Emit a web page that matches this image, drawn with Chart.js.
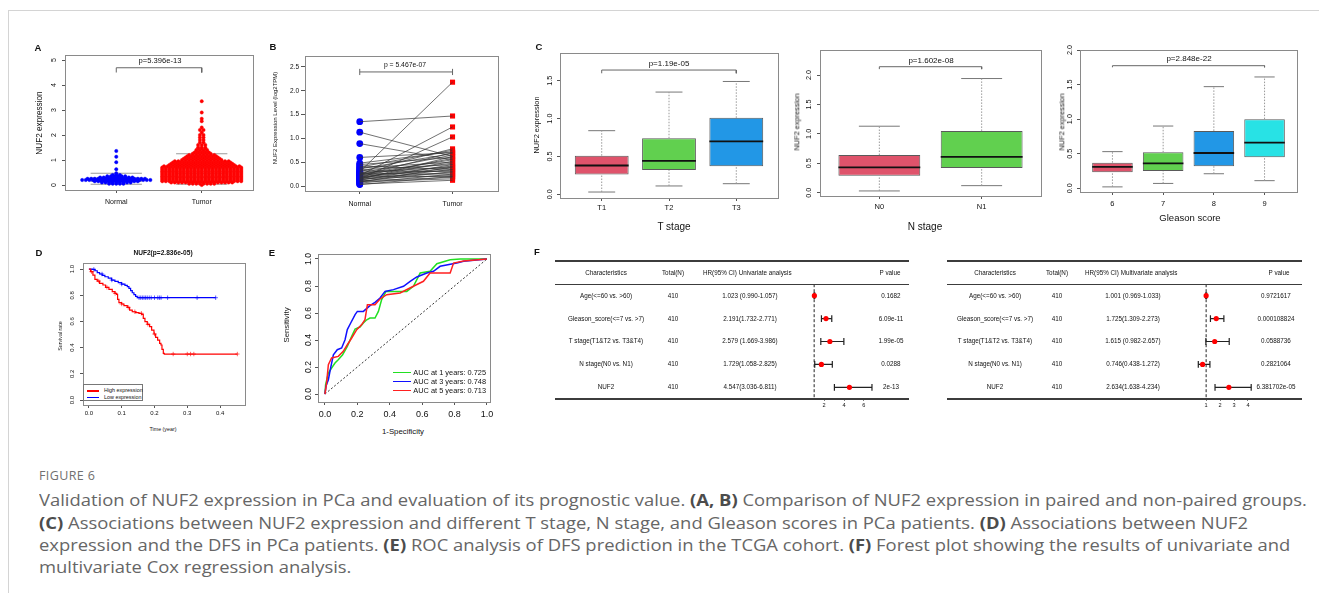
<!DOCTYPE html>
<html>
<head>
<meta charset="utf-8">
<title>Figure 6</title>
<script src="https://cdn.jsdelivr.net/npm/chart.js@4.4.1/dist/chart.umd.min.js"></script>
<style>
  html, body { margin: 0; padding: 0; background: #fff; }
  body { position: relative; width: 1319px; height: 599px; overflow: hidden; font-family: "Liberation Sans", Arial, sans-serif; color: #111; }
  canvas { position: absolute; }
  .tx { position: absolute; white-space: nowrap; line-height: 1; }
  .rule { position: absolute; background: #3c3c3c; }
  #frame { position: absolute; left: 8px; top: 10px; width: 1311px; height: 582px; border-top: 1px solid #d4d4d4; border-left: 1px solid #d4d4d4; }
  .cap { position: absolute; left: 39px; white-space: nowrap; font-family: "Open Sans", sans-serif; font-size: 16.5px; color: #666; transform-origin: 0 50%; line-height: 1; }
  .cap b { color: #4c4c4c; font-weight: 700; }
  .lg { position: absolute; }
</style>
</head>
<body>
<div id="frame"></div>
<script>
// ---------------- data ----------------
// A: unpaired samples, number of samples at each expression level
const normalLevels = [0.05, 0.10, 0.15, 0.20, 0.25, 0.30, 0.35, 0.40, 0.47, 0.63, 0.91, 1.13, 1.36];
const normalCounts = [5, 9, 13, 20, 17, 10, 6, 3, 1, 1, 1, 1, 1];
const tumorLevels = [0.00, 0.05, 0.10, 0.15, 0.20, 0.25, 0.30, 0.35, 0.40, 0.45, 0.50, 0.55, 0.60, 0.65, 0.70, 0.75,
  0.80, 0.85, 0.90, 0.95, 1.00, 1.05, 1.10, 1.15, 1.20, 1.25, 1.30, 1.35, 1.40, 1.45, 1.50,
  1.60, 1.70, 1.80, 1.90, 2.00, 2.10, 2.20, 2.30, 2.55, 2.65, 2.90, 3.35];
const tumorCounts = [1, 8, 18, 23, 23, 23, 23, 23, 23, 23, 23, 23, 23, 23, 23, 22,
  19, 18, 17, 16, 12, 11, 10, 9, 8, 6, 5, 4, 4, 3, 3,
  3, 2, 2, 2, 2, 1, 2, 1, 1, 1, 1, 1];
const groupsA = ['Normal', 'Tumor'];
const boxStatsA = [[0.03, 0.15, 0.21, 0.28, 0.47], [0.03, 0.30, 0.46, 0.66, 1.25]];

// B: paired samples
const pairedNormal = [1.35, 1.13, 0.89, 0.60, 0.30, 0.22, 0.15, 0.48, 0.45, 0.42, 0.40, 0.38, 0.36, 0.34, 0.32, 0.30, 0.28, 0.27, 0.26, 0.25,
  0.24, 0.23, 0.22, 0.21, 0.20, 0.19, 0.18, 0.17, 0.16, 0.15, 0.14, 0.13, 0.12, 0.11, 0.10, 0.09, 0.08, 0.06, 0.04, 0.03];
const pairedTumor = [1.47, 0.62, 0.55, 0.70, 2.18, 1.24, 1.03, 0.72, 0.60, 0.35, 0.75, 0.50, 0.68, 0.45, 0.30, 0.78, 0.40, 0.65, 0.25, 0.55,
  0.48, 0.33, 0.70, 0.20, 0.58, 0.42, 0.38, 0.28, 0.52, 0.22, 0.62, 0.35, 0.45, 0.18, 0.30, 0.15, 0.40, 0.25, 0.12, 0.20];

// C: boxplots [lower whisker, Q1, median, Q3, upper whisker]
const tStages = ['T1', 'T2', 'T3'];
const tStats = [[0.03, 0.26, 0.38, 0.51, 0.84], [0.11, 0.32, 0.44, 0.74, 1.35], [0.14, 0.37, 0.70, 1.01, 1.49]];
const nStages = ['N0', 'N1'];
const nStats = [[0.03, 0.29, 0.43, 0.64, 1.13], [0.12, 0.42, 0.61, 1.05, 1.94]];
const gleasonScores = ['6', '7', '8', '9'];
const gStats = [[0.02, 0.23, 0.31, 0.37, 0.53], [0.07, 0.25, 0.36, 0.52, 0.90], [0.21, 0.32, 0.51, 0.83, 1.47], [0.11, 0.45, 0.66, 1.00, 1.61]];

// D: Kaplan-Meier
const highTime = [0, 0.0051, 0.0122, 0.0183, 0.0254, 0.0326, 0.0427, 0.0509, 0.0610, 0.0712, 0.0793, 0.0844, 0.0875, 0.0916, 0.0997, 0.1068,
  0.1170, 0.1241, 0.1322, 0.1424, 0.1526, 0.1607, 0.1658, 0.1709, 0.1780, 0.1851, 0.1913, 0.1984, 0.2035, 0.2096, 0.2157, 0.2197,
  0.2228, 0.2269, 0.2299, 0.4527];
const highSurv = [1, 0.980, 0.954, 0.921, 0.908, 0.891, 0.878, 0.860, 0.845, 0.827, 0.814, 0.807, 0.768, 0.743, 0.733, 0.720,
  0.707, 0.687, 0.674, 0.667, 0.662, 0.654, 0.623, 0.598, 0.578, 0.560, 0.534, 0.504, 0.478, 0.458, 0.433, 0.420,
  0.387, 0.356, 0.351, 0.351];
const lowTime = [0, 0.0102, 0.0183, 0.0254, 0.0326, 0.0407, 0.0488, 0.0590, 0.0692, 0.0793, 0.0895, 0.0997, 0.1099, 0.1170, 0.1221,
  0.1272, 0.1322, 0.1373, 0.1424, 0.1475, 0.3866];
const lowSurv = [1, 0.997, 0.987, 0.972, 0.962, 0.952, 0.941, 0.931, 0.916, 0.906, 0.896, 0.885, 0.875, 0.865, 0.852,
  0.835, 0.819, 0.804, 0.791, 0.781, 0.781];
const highCensor = [0.008, 0.03, 0.055, 0.08, 0.10, 0.12, 0.14, 0.16, 0.18, 0.20, 0.257, 0.30, 0.31, 0.32, 0.4527];
const lowCensor = [0.015, 0.04, 0.07, 0.10, 0.153, 0.158, 0.163, 0.168, 0.173, 0.178, 0.184, 0.19, 0.2, 0.21, 0.215, 0.22, 0.24, 0.33, 0.3866];

// E: ROC curves (1-specificity, sensitivity)
const roc1x = [0, 0.004, 0.021, 0.041, 0.062, 0.082, 0.109, 0.138, 0.165, 0.186, 0.216, 0.237, 0.258, 0.278, 0.309, 0.330, 0.350, 0.377, 0.423, 0.505, 0.546, 0.588, 0.649, 0.691, 0.773, 0.835, 1];
const roc1y = [0, 0.069, 0.156, 0.193, 0.230, 0.254, 0.291, 0.353, 0.427, 0.481, 0.496, 0.526, 0.550, 0.563, 0.563, 0.612, 0.699, 0.760, 0.760, 0.760, 0.798, 0.896, 0.909, 0.965, 0.995, 1, 1];
const roc3x = [0, 0.006, 0.021, 0.035, 0.052, 0.076, 0.103, 0.124, 0.138, 0.159, 0.186, 0.200, 0.237, 0.278, 0.309, 0.340, 0.371, 0.423, 0.485, 0.526, 0.567, 0.629, 0.670, 0.711, 0.814, 0.856, 1];
const roc3y = [0, 0.057, 0.106, 0.193, 0.291, 0.328, 0.341, 0.402, 0.477, 0.526, 0.588, 0.612, 0.612, 0.654, 0.679, 0.711, 0.760, 0.773, 0.798, 0.835, 0.867, 0.896, 0.909, 0.946, 0.970, 0.983, 1];
const roc5x = [0, 0.010, 0.021, 0.041, 0.082, 0.113, 0.138, 0.165, 0.196, 0.227, 0.247, 0.262, 0.309, 0.340, 0.381, 0.464, 0.546, 0.608, 0.649, 0.773, 0.794, 0.856, 1];
const roc5y = [0, 0.081, 0.217, 0.267, 0.279, 0.316, 0.365, 0.415, 0.477, 0.514, 0.551, 0.662, 0.662, 0.704, 0.736, 0.748, 0.798, 0.835, 0.896, 0.896, 0.970, 0.985, 1];
const aucLabels = ['AUC at 1 years: 0.725', 'AUC at 3 years: 0.748', 'AUC at 5 years: 0.713'];

// F: Cox regression
const fChars = ['Age(<=60 vs. >60)', 'Gleason_score(<=7 vs. >7)', 'T stage(T1&T2 vs. T3&T4)', 'N stage(N0 vs. N1)', 'NUF2'];
const fTotal = ['410', '410', '410', '410', '410'];
const uniHR = [1.023, 2.191, 2.579, 1.729, 4.547];
const uniLow = [0.990, 1.732, 1.669, 1.058, 3.036];
const uniHigh = [1.057, 2.771, 3.986, 2.825, 6.811];
const uniHRText = ['1.023 (0.990-1.057)', '2.191(1.732-2.771)', '2.579 (1.669-3.986)', '1.729(1.058-2.825)', '4.547(3.036-6.811)'];
const uniP = ['0.1682', '6.09e-11', '1.99e-05', '0.0288', '2e-13'];
const mulHR = [1.001, 1.725, 1.615, 0.746, 2.634];
const mulLow = [0.969, 1.309, 0.982, 0.438, 1.638];
const mulHigh = [1.033, 2.273, 2.657, 1.272, 4.234];
const mulHRText = ['1.001 (0.969-1.033)', '1.725(1.309-2.273)', '1.615 (0.982-2.657)', '0.746(0.438-1.272)', '2.634(1.638-4.234)'];
const mulP = ['0.9721617', '0.000108824', '0.0588736', '0.2821064', '6.381702e-05'];

// tick values
const ticksA = [0, 1, 2, 3, 4, 5];
const ticksB = [0, 0.5, 1, 1.5, 2, 2.5];
const ticksT = [0, 0.5, 1, 1.5];
const ticksN = [0, 0.5, 1, 1.5, 2];
const ticksG = [0, 0.5, 1, 1.5, 2];
const ticksDx = [0, 0.1, 0.2, 0.3, 0.4];
const ticksDy = [0, 0.2, 0.4, 0.6, 0.8, 1];
const ticksE = [0, 0.2, 0.4, 0.6, 0.8, 1];
const ticksF1 = [2, 4, 6];
const ticksF2 = [1, 2, 3, 4];

// ---------------- helpers ----------------
const FONT = '"Liberation Sans", Arial, sans-serif';
const R4 = ['#DF536B', '#61D04F', '#2297E6', '#28E2E5'];

const framePlugin = {
  id: 'frame',
  afterDraw(chart, args, o) {
    if (!o || !o.color) return;
    const a = chart.chartArea, ctx = chart.ctx;
    ctx.save();
    ctx.strokeStyle = o.color;
    ctx.lineWidth = 1;
    ctx.strokeRect(Math.round(a.left) + 0.5, Math.round(a.top) + 0.5, Math.round(a.right - a.left), Math.round(a.bottom - a.top));
    ctx.restore();
  }
};

// R style y tick labels (rotated)
const rotYPlugin = {
  id: 'rotY',
  afterDraw(chart, args, o) {
    if (!o || !o.size) return;
    const s = chart.scales.y, ctx = chart.ctx;
    ctx.save();
    ctx.font = o.size + 'px ' + FONT;
    ctx.fillStyle = '#111';
    ctx.textAlign = 'center';
    ctx.textBaseline = 'bottom';
    s.ticks.forEach(t => {
      ctx.save();
      ctx.translate(s.right - o.off, s.getPixelForValue(t.value));
      ctx.rotate(-Math.PI / 2);
      ctx.fillText(t.value.toFixed(o.dec), 0, 0);
      ctx.restore();
    });
    ctx.restore();
  }
};

function mount(box, m) {
  const [x0, y0, x1, y1] = box;
  const cl = Math.floor(x0 - m.l), ct = Math.floor(y0 - m.t);
  const cw = Math.ceil(x1 + m.r) - cl, ch = Math.ceil(y1 + m.b) - ct;
  const c = document.createElement('canvas');
  c.width = cw; c.height = ch;
  c.style.left = cl + 'px'; c.style.top = ct + 'px';
  c.style.width = cw + 'px'; c.style.height = ch + 'px';
  document.body.appendChild(c);
  return { c, left: cl, top: ct, padding: { left: x0 - cl - m.yW, top: y0 - ct, right: cl + cw - x1, bottom: ct + ch - y1 - m.xH } };
}

function axis(min, max, ticks, o) {
  return {
    type: 'linear', min, max, offset: false, reverse: !!o.reverse, display: o.display !== false,
    afterBuildTicks: s => { s.ticks = ticks.map(v => ({ value: v })); },
    afterFit: s => { if (o.w !== undefined) s.width = o.w; if (o.h !== undefined) s.height = o.h; },
    grid: { display: true, drawOnChartArea: false, tickLength: o.tl ?? 3, color: '#555', offset: false },
    border: { display: o.border !== false, color: '#555' },
    ticks: {
      display: o.show !== false, autoSkip: false, maxRotation: 0, minRotation: 0, padding: o.pad ?? 2, color: '#111',
      font: { family: FONT, size: o.size || 7 },
      callback: o.cb || (v => v.toFixed(o.dec ?? 1))
    }
  };
}

function options(m, x, y, plugins) {
  return {
    responsive: false, animation: false, events: [], devicePixelRatio: 1,
    layout: { padding: m.padding },
    plugins: Object.assign({ legend: { display: false }, tooltip: { enabled: false } }, plugins),
    scales: { x, y }
  };
}

function seg(points, color, width, dash, order) {
  return { type: 'line', data: points, borderColor: color, borderWidth: width, borderDash: dash || [],
    pointRadius: 0, fill: false, tension: 0, order: order ?? 1 };
}

function swarm(levels, counts, cx, step) {
  const pts = [];
  levels.forEach((v, k) => {
    const n = counts[k];
    for (let j = 0; j < n; j++) pts.push({ x: cx + (j - (n - 1) / 2) * step, y: v });
  });
  return pts;
}

function boxSets(stats, colors) {
  const sets = [{
    type: 'bar', data: stats.map((s, i) => ({ x: i + 1, y: [s[1], s[3]] })),
    backgroundColor: colors, borderColor: '#5a5a5a', borderWidth: 1, borderSkipped: false,
    barPercentage: 0.8, categoryPercentage: 1, order: 5
  }];
  stats.forEach((s, i) => {
    const x = i + 1;
    sets.push(seg([{ x, y: s[3] }, { x, y: s[4] }], '#999', 1, [1.5, 1.5]));
    sets.push(seg([{ x, y: s[0] }, { x, y: s[1] }], '#999', 1, [1.5, 1.5]));
    sets.push(seg([{ x: x - 0.2, y: s[4] }, { x: x + 0.2, y: s[4] }], '#777', 1));
    sets.push(seg([{ x: x - 0.2, y: s[0] }, { x: x + 0.2, y: s[0] }], '#777', 1));
    sets.push(seg([{ x: x - 0.4, y: s[2] }, { x: x + 0.4, y: s[2] }], '#111', 1.8, null, 0));
  });
  return sets;
}

function bracket(x0, x1, y, yTick) {
  return seg([{ x: x0, y: yTick }, { x: x0, y }, { x: x1, y }, { x: x1, y: yTick }], '#666', 1);
}

function km(times, surv, color) {
  return { type: 'line', data: times.map((t, i) => ({ x: t, y: surv[i] })), stepped: true, borderColor: color,
    borderWidth: 1.2, pointRadius: 0, fill: false };
}

function survAt(times, surv, t) {
  let s = surv[0];
  times.forEach((tt, i) => { if (tt <= t) s = surv[i]; });
  return s;
}

function censor(times, surv, ct, color) {
  return { type: 'scatter', data: ct.map(t => ({ x: t, y: survAt(times, surv, t) })), pointStyle: 'cross',
    pointRadius: 2.2, pointBorderColor: color, pointBorderWidth: 0.8, pointBackgroundColor: color };
}

function roc(xs, ys, color) {
  return { type: 'line', data: xs.map((x, i) => ({ x, y: ys[i] })), borderColor: color, borderWidth: 1.5,
    pointRadius: 0, fill: false, tension: 0 };
}

function forestSets(hr, lo, hi) {
  const sets = [{
    type: 'scatter', data: hr.map((v, i) => ({ x: v, y: i + 1 })), pointRadius: 2.6,
    pointBackgroundColor: '#ff0000', pointBorderColor: '#ff0000', pointBorderWidth: 0, order: 0
  }];
  hr.forEach((v, i) => sets.push(seg([{ x: lo[i], y: i + 1 }, { x: hi[i], y: i + 1 }], '#222', 1.2)));
  sets.push({
    type: 'scatter', data: lo.map((v, i) => ({ x: v, y: i + 1 })).concat(hi.map((v, i) => ({ x: v, y: i + 1 }))),
    pointStyle: 'line', pointRotation: 90, pointRadius: 3.4, pointBorderColor: '#222', pointBorderWidth: 1.2, order: 1
  });
  sets.push(seg([{ x: 1, y: 0.5 }, { x: 1, y: 5.5 }], '#222', 1, [3, 2]));
  return sets;
}

function text(x, y, s, o = {}) {
  const d = document.createElement('div');
  d.className = 'tx';
  d.textContent = s;
  d.style.left = x + 'px';
  d.style.top = y + 'px';
  d.style.fontSize = (o.size || 7) + 'px';
  if (o.bold) d.style.fontWeight = 'bold';
  if (o.color) d.style.color = o.color;
  if (o.rot) d.style.transform = 'translate(-50%,-50%) rotate(-90deg)';
  else if (o.left) d.style.transform = 'translate(0,-50%)';
  else d.style.transform = 'translate(-50%,-50%)';
  document.body.appendChild(d);
  return d;
}

function rule(x0, x1, y, h) {
  const d = document.createElement('div');
  d.className = 'rule';
  d.style.left = x0 + 'px'; d.style.width = (x1 - x0) + 'px';
  d.style.top = (y - h / 2) + 'px'; d.style.height = h + 'px';
  document.body.appendChild(d);
}

function legendLine(x0, x1, y, color) {
  const d = document.createElement('div');
  d.className = 'lg';
  d.style.left = x0 + 'px'; d.style.width = (x1 - x0) + 'px';
  d.style.top = (y - 0.75) + 'px'; d.style.height = '1.5px';
  d.style.background = color;
  document.body.appendChild(d);
}

const plugins = [framePlugin, rotYPlugin];

// ---------------- A ----------------
{
  const m = mount([65, 55, 253, 190], { l: 40, t: 10, r: 10, b: 20, yW: 25, xH: 16 });
  new Chart(m.c, {
    type: 'line',
    data: { datasets: [
      ...boxStatsA.flatMap((s, i) => s.map(v => seg([{ x: i + 0.7, y: v }, { x: i + 1.3, y: v }], '#9a9a9a', 1, null, 3))),
      { type: 'scatter', data: swarm(normalLevels, normalCounts, 1, 0.042), pointRadius: 1.7,
        pointBackgroundColor: '#0000ff', pointBorderColor: '#0000ff', pointBorderWidth: 0.4, order: 1 },
      { type: 'scatter', data: swarm(tumorLevels, tumorCounts, 2, 0.042), pointRadius: 1.7,
        pointBackgroundColor: '#ff0000', pointBorderColor: '#ff1010', pointBorderWidth: 0.4, order: 1 },
      bracket(1, 2, 4.69, 4.5)
    ] },
    options: options(m,
      axis(0.4, 2.6, [1, 2], { h: 16, size: 7, pad: 5, cb: v => groupsA[v - 1] }),
      axis(-0.2, 5.2, ticksA, { w: 25, show: false, tl: 3 }),
      { frame: { color: '#8a8a8a' }, rotY: { size: 7, off: 7, dec: 0 } }),
    plugins
  });
  text(160, 61, 'p=5.396e-13', { size: 7.6 });
  text(40, 123, 'NUF2 expression', { size: 8.2, rot: true });
  text(38, 48, 'A', { size: 9.5, bold: true });
}

// ---------------- B ----------------
{
  const m = mount([305, 56, 498, 191], { l: 40, t: 10, r: 10, b: 20, yW: 25, xH: 16 });
  new Chart(m.c, {
    type: 'line',
    data: { datasets: [
      ...pairedNormal.map((n, i) => seg([{ x: 1, y: n }, { x: 2, y: pairedTumor[i] }], '#333', 0.7, null, 0)),
      { type: 'scatter', data: pairedNormal.map(v => ({ x: 1, y: v })), pointRadius: 3.4,
        pointBackgroundColor: '#0000ff', pointBorderColor: '#0000ff', pointBorderWidth: 0, order: 2 },
      { type: 'scatter', data: pairedTumor.map(v => ({ x: 2, y: v })), pointStyle: 'rect', pointRadius: 3.6,
        pointBackgroundColor: '#ff0000', pointBorderColor: '#ff0000', pointBorderWidth: 0, order: 2 },
      seg([{ x: 1, y: 2.395 }, { x: 2, y: 2.395 }], '#666', 1),
      seg([{ x: 1, y: 2.33 }, { x: 1, y: 2.46 }], '#666', 1),
      seg([{ x: 2, y: 2.33 }, { x: 2, y: 2.46 }], '#666', 1)
    ] },
    options: options(m,
      axis(0.41, 2.49, [1, 2], { h: 16, size: 7, pad: 6, cb: v => groupsA[v - 1] }),
      axis(-0.105, 2.73, ticksB, { w: 25, size: 6.5, pad: 2, tl: 4 }),
      { frame: { color: '#8a8a8a' } }),
    plugins
  });
  text(405, 65, 'p = 5.467e-07', { size: 6.8 });
  text(275, 118, 'NUF2 Expression Level (log2TPM)', { size: 6, rot: true });
  text(273, 47, 'B', { size: 9.5, bold: true });
}

// ---------------- C: T stage ----------------
{
  const m = mount([560, 53, 778, 198], { l: 30, t: 10, r: 6, b: 20, yW: 20, xH: 16 });
  new Chart(m.c, {
    type: 'line',
    data: { datasets: [...boxSets(tStats, R4.slice(0, 3)), bracket(1, 3, 1.641, 1.598)] },
    options: options(m,
      axis(0.38, 3.62, [1, 2, 3], { h: 16, size: 7.5, pad: 2, cb: v => tStages[v - 1] }),
      axis(-0.049, 1.866, ticksT, { w: 20, show: false }),
      { frame: { color: '#8a8a8a' }, rotY: { size: 7.3, off: 6, dec: 1 } }),
    plugins
  });
  text(669, 64, 'p=1.19e-05', { size: 8 });
  text(537, 125, 'NUF2 expression', { size: 7.4, rot: true });
  text(674, 227, 'T stage', { size: 10 });
  text(539, 47, 'C', { size: 9.5, bold: true });
}

// ---------------- C: N stage ----------------
{
  const m = mount([820, 50, 1041, 196], { l: 30, t: 10, r: 6, b: 20, yW: 20, xH: 16 });
  new Chart(m.c, {
    type: 'line',
    data: { datasets: [...boxSets(nStats, R4.slice(0, 2)), bracket(1, 2, 2.141, 2.10)] },
    options: options(m,
      axis(0.42, 2.58, [1, 2], { h: 16, size: 7.5, pad: 3, cb: v => nStages[v - 1] }),
      axis(-0.056, 2.425, ticksN, { w: 20, show: false }),
      { frame: { color: '#8a8a8a' }, rotY: { size: 7.3, off: 7, dec: 1 } }),
    plugins
  });
  text(931, 61, 'p=1.602e-08', { size: 8 });
  text(797, 122, 'NUF2 expression', { size: 7.4, rot: true });
  text(925, 227, 'N stage', { size: 10 });
}

// ---------------- C: Gleason score ----------------
{
  const m = mount([1080, 50, 1297, 192], { l: 30, t: 10, r: 6, b: 20, yW: 20, xH: 16 });
  new Chart(m.c, {
    type: 'line',
    data: { datasets: [...boxSets(gStats, R4), bracket(1, 4, 1.773, 1.75)] },
    options: options(m,
      axis(0.36, 4.64, [1, 2, 3, 4], { h: 16, size: 7.5, pad: 4, cb: v => gleasonScores[v - 1] }),
      axis(-0.054, 2.0, ticksG, { w: 20, show: false }),
      { frame: { color: '#8a8a8a' }, rotY: { size: 7.3, off: 6, dec: 1 } }),
    plugins
  });
  text(1189, 59, 'p=2.848e-22', { size: 8 });
  text(1062, 122, 'NUF2 expression', { size: 7.4, rot: true });
  text(1190, 218, 'Gleason score', { size: 9.5 });
}

// ---------------- D ----------------
{
  const m = mount([83, 263, 245, 405], { l: 30, t: 8, r: 6, b: 18, yW: 20, xH: 14 });
  new Chart(m.c, {
    type: 'line',
    data: { datasets: [
      km(highTime, highSurv, '#ff0000'), km(lowTime, lowSurv, '#0000ff'),
      censor(highTime, highSurv, highCensor, '#ff4040'), censor(lowTime, lowSurv, lowCensor, '#3030ff')
    ] },
    options: options(m,
      axis(-0.018, 0.476, ticksDx, { h: 14, size: 6, pad: 2 }),
      axis(-0.038, 1.046, ticksDy, { w: 20, show: false }),
      { frame: { color: '#8a8a8a' }, rotY: { size: 6, off: 8, dec: 1 } }),
    plugins
  });
  text(163, 253, 'NUF2(p=2.836e-05)', { size: 6.6, bold: true });
  text(61, 336, 'Survival rate', { size: 5.3, rot: true });
  text(163, 430, 'Time (year)', { size: 5.3 });
  text(39, 253, 'D', { size: 9.5, bold: true });
  const lb = document.createElement('div');
  lb.style.cssText = 'position:absolute;left:83px;top:384px;width:60px;height:17px;border:1px solid #777;box-sizing:border-box;background:#fff;';
  document.body.appendChild(lb);
  legendLine(86.5, 98.5, 391, '#ff0000');
  legendLine(86.5, 98.5, 397.5, '#0000ff');
  text(104, 391, 'High expression', { size: 5.4, left: true });
  text(104, 397.5, 'Low expression', { size: 5.4, left: true });
}

// ---------------- E ----------------
{
  const m = mount([318, 254, 490, 402], { l: 30, t: 8, r: 8, b: 20, yW: 20, xH: 18 });
  new Chart(m.c, {
    type: 'line',
    data: { datasets: [
      seg([{ x: 0, y: 0 }, { x: 1, y: 1 }], '#333', 1, [2, 2], 4),
      roc(roc5x, roc5y, '#ff2020'), roc(roc3x, roc3y, '#1010ff'), roc(roc1x, roc1y, '#22e022')
    ] },
    options: options(m,
      axis(-0.043, 1.019, ticksE, { h: 18, size: 9, pad: 4 }),
      axis(-0.059, 1.037, ticksE, { w: 20, show: false }),
      { frame: { color: '#8a8a8a' }, rotY: { size: 8.5, off: 5, dec: 1 } }),
    plugins
  });
  text(287, 325, 'Sensitivity', { size: 7.8, rot: true });
  text(403, 432, '1-Specificity', { size: 7.8 });
  text(272, 253, 'E', { size: 9.5, bold: true });
  const cols = ['#22e022', '#1010ff', '#ff2020'];
  [372.7, 381.7, 390.7].forEach((y, i) => {
    legendLine(392.7, 410.7, y, cols[i]);
    text(413.3, y, aucLabels[i], { size: 7.4, left: true });
  });
}

// ---------------- F ----------------
function forest(box, lo, hi, hr, ticks, min, max, cols, texts) {
  const m = mount(box, { l: 2, t: 2, r: 2, b: 14, yW: 0, xH: 12 });
  const ch = new Chart(m.c, {
    type: 'line',
    data: { datasets: forestSets(hr, lo, hi) },
    options: options(m,
      axis(min, max, ticks, { h: 12, size: 5.6, pad: 1, tl: 2, dec: 0, border: false }),
      axis(0.5, 5.5, [], { display: false, reverse: true }),
      {}),
    plugins
  });
  const ys = v => m.top + ch.scales.y.getPixelForValue(v);
  rule(cols.x0, cols.x1, ys(-0.5), 2);
  rule(cols.x0, cols.x1, ys(0.5), 1.3);
  rule(cols.x0, cols.x1, ys(5.5), 2);
  const hy = ys(0);
  text(cols.c, hy, 'Characteristics', { size: 6.3 });
  text(cols.n, hy, 'Total(N)', { size: 6.3 });
  text(cols.hrHead, hy, texts.head, { size: 6.3, left: true });
  text(cols.pHead, hy, 'P value', { size: 6.3 });
  fChars.forEach((s, i) => {
    const y = ys(i + 1);
    text(cols.c, y, s, { size: 6.3 });
    text(cols.n, y, fTotal[i], { size: 6.3 });
    text(cols.hr, y, texts.hr[i], { size: 6.3 });
    text(cols.p, y, texts.p[i], { size: 6.3 });
  });
}

forest([801.7, 281.25, 886.5, 398.75], uniLow, uniHigh, uniHR, ticksF1, 0, 8,
  { x0: 555, x1: 909, c: 606, n: 673, hrHead: 703, hr: 750, pHead: 890, p: 891 },
  { head: 'HR(95% CI) Univariate analysis', hr: uniHRText, p: uniP });
forest([1189, 281.25, 1279, 398.75], mulLow, mulHigh, mulHR, ticksF2, 0, 6,
  { x0: 947, x1: 1302, c: 995, n: 1057, hrHead: 1085, hr: 1133, pHead: 1279, p: 1276 },
  { head: 'HR(95% CI) Multivariate analysis', hr: mulHRText, p: mulP });
text(537, 252, 'F', { size: 9.5, bold: true });

// ---------------- caption ----------------
const fig = document.createElement('div');
fig.className = 'cap';
fig.style.cssText += 'top:470px;font-size:12.5px;letter-spacing:0.4px;color:#707070;';
fig.textContent = 'FIGURE 6';
document.body.appendChild(fig);

const capLines = [
  'Validation of NUF2 expression in PCa and evaluation of its prognostic value. <b>(A, B)</b> Comparison of NUF2 expression in paired and non-paired groups.',
  '<b>(C)</b> Associations between NUF2 expression and different T stage, N stage, and Gleason scores in PCa patients. <b>(D)</b> Associations between NUF2',
  'expression and the DFS in PCa patients. <b>(E)</b> ROC analysis of DFS prediction in the TCGA cohort. <b>(F)</b> Forest plot showing the results of univariate and',
  'multivariate Cox regression analysis.'
];
const capY = [500, 523, 545, 567];
const capEls = capLines.map((h, i) => {
  const d = document.createElement('div');
  d.className = 'cap';
  d.innerHTML = h;
  d.style.top = (capY[i] - 8) + 'px';
  document.body.appendChild(d);
  return d;
});
const sx = 1268 / capEls[0].getBoundingClientRect().width;
capEls.forEach(d => { d.style.transform = 'scaleX(' + sx.toFixed(4) + ')'; });
</script>
</body>
</html>
